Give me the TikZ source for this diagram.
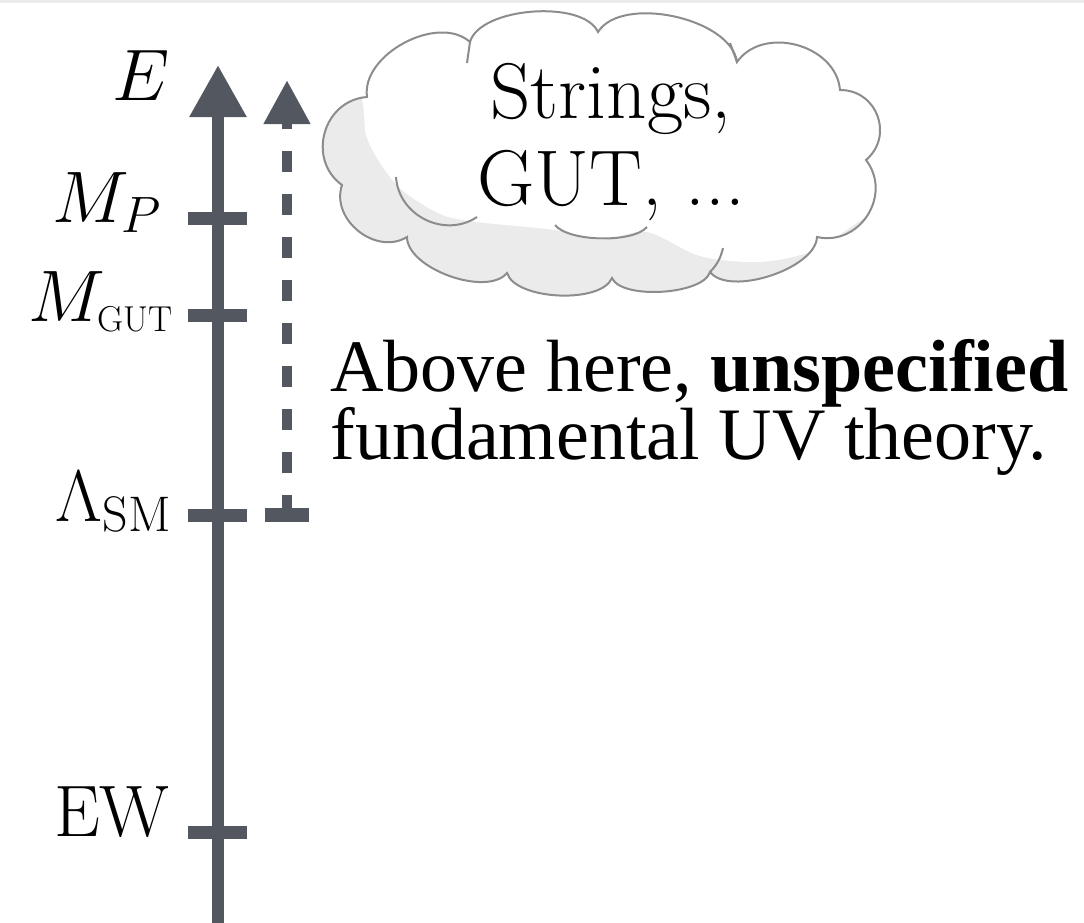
\RequirePackage{fix-cm}
\documentclass[tikz,border=0pt]{standalone}
\usepackage{fontspec}
\newfontfamily\timesfont{Liberation Serif}
\usetikzlibrary{arrows.meta}

\definecolor{axisgray}{RGB}{83,87,95}
\definecolor{cloudline}{RGB}{140,140,140}
\definecolor{cloudfill}{RGB}{235,235,235}
\definecolor{stripgray}{RGB}{236,236,236}

\newcommand{\subtxt}[2]{\mbox{\fontsize{#1}{#1}\selectfont #2}}

\tikzset{
  axisline/.style={axisgray, line width=6pt, -{Triangle[length=26pt,width=27pt]}},
  dasharrow/.style={axisgray, line width=5.3pt, dash pattern=on 10.5pt off 11pt, dash phase=2pt,
    {Bar[width=22pt,line width=7pt]}-{Triangle[length=22pt,width=22pt]}},
  tickmark/.style={axisgray, line width=6.5pt},
  lbl/.style={inner sep=0pt, font=\fontsize{36.5}{40}\selectfont},
  cloudedge/.style={cloudline, line width=1pt}
}

\def\cloudoutline{(342,185) to[bend left=70,looseness=1.23] (367,97)
  to[bend left=70,looseness=0.94] (470,42)
  to[bend left=70,looseness=0.72] (598,32)
  to[bend left=70,looseness=0.8] (737,62)
  to[bend left=70,looseness=1.09] (840,90)
  to[bend left=70,looseness=1.27] (866,160)
  to[bend left=70,looseness=1.23] (817,237)
  to[bend left=70,looseness=0.72] (710,272)
  to[bend left=70,looseness=0.62] (612,278)
  to[bend left=70,looseness=0.69] (507,273)
  to[bend left=70,looseness=0.76] (407,237)
  to[bend left=70,looseness=1.12] (342,185) -- cycle}

\begin{document}
\begin{tikzpicture}[x=0.5pt,y=-0.5pt]
\useasboundingbox (0,0) rectangle (1084,923);
\fill[stripgray] (0,0) rectangle (1084,3);

\coordinate (base) at (218,923);
\coordinate (top) at (218,65);
\coordinate (MP) at (218,218);
\coordinate (MG) at (218,315);
\coordinate (LSM) at (218,515);
\coordinate (EW) at (218,832);
\coordinate (dbot) at (287,522);
\coordinate (dtop) at (287,80);

% energy axis
\draw[axisline] (base) -- (top);
\foreach \c in {MP,MG,LSM,EW}
  \draw[tickmark] ([xshift=-15pt]\c) -- ([xshift=14.5pt]\c);
\draw[dasharrow] (dbot) -- (dtop);

\node[lbl, anchor=base east] (lE) at (170,100) {$E$};
\node[lbl, anchor=base east] (lMP) at (162,222) {$M_P$};
\node[lbl, anchor=base east] (lMG) at (174,321) {$M_{\subtxt{18}{GUT}}$};
\node[lbl, anchor=base east] (lLSM) at (172,521) {$\Lambda_{\subtxt{25}{SM}}$};
\node[lbl, anchor=base east] (lEW) at (170,836) {EW};

% cloud
\fill[cloudfill] \cloudoutline;
\begin{scope}
  \clip \cloudoutline;
  \fill[white] plot[smooth] coordinates {(340,40) (362,100) (366,135) (380,163) (402,190)
    (440,214) (477,222) (555,230) (600,240) (647,232) (700,256) (760,262) (815,250) (870,215) (920,200)}
    -- (920,0) -- (340,0) -- cycle;
\end{scope}
\draw[cloudedge] \cloudoutline;
\draw[cloudedge] (396,177) to[bend right=60,looseness=1.1] (477,217);
\draw[cloudedge] (555,225) to[bend right=50,looseness=0.6] (647,227);
\draw[cloudedge] (723,248) to[bend left=15] (710,272);
\draw[cloudedge] (467,63) -- (470,42);
\draw[cloudedge] (730,43) -- (737,62);

\node[font=\fontsize{39.5}{43.5}\selectfont, align=center, anchor=base] (strings) at (611,205) {Strings,\\GUT, ...};

\node[font=\timesfont\fontsize{37}{34}\selectfont, align=left, anchor=base west, inner sep=0pt] (uvnote) at (330,459)
  {Above here, \textbf{unspecified}\\fundamental UV theory.};
\end{tikzpicture}
\end{document}
